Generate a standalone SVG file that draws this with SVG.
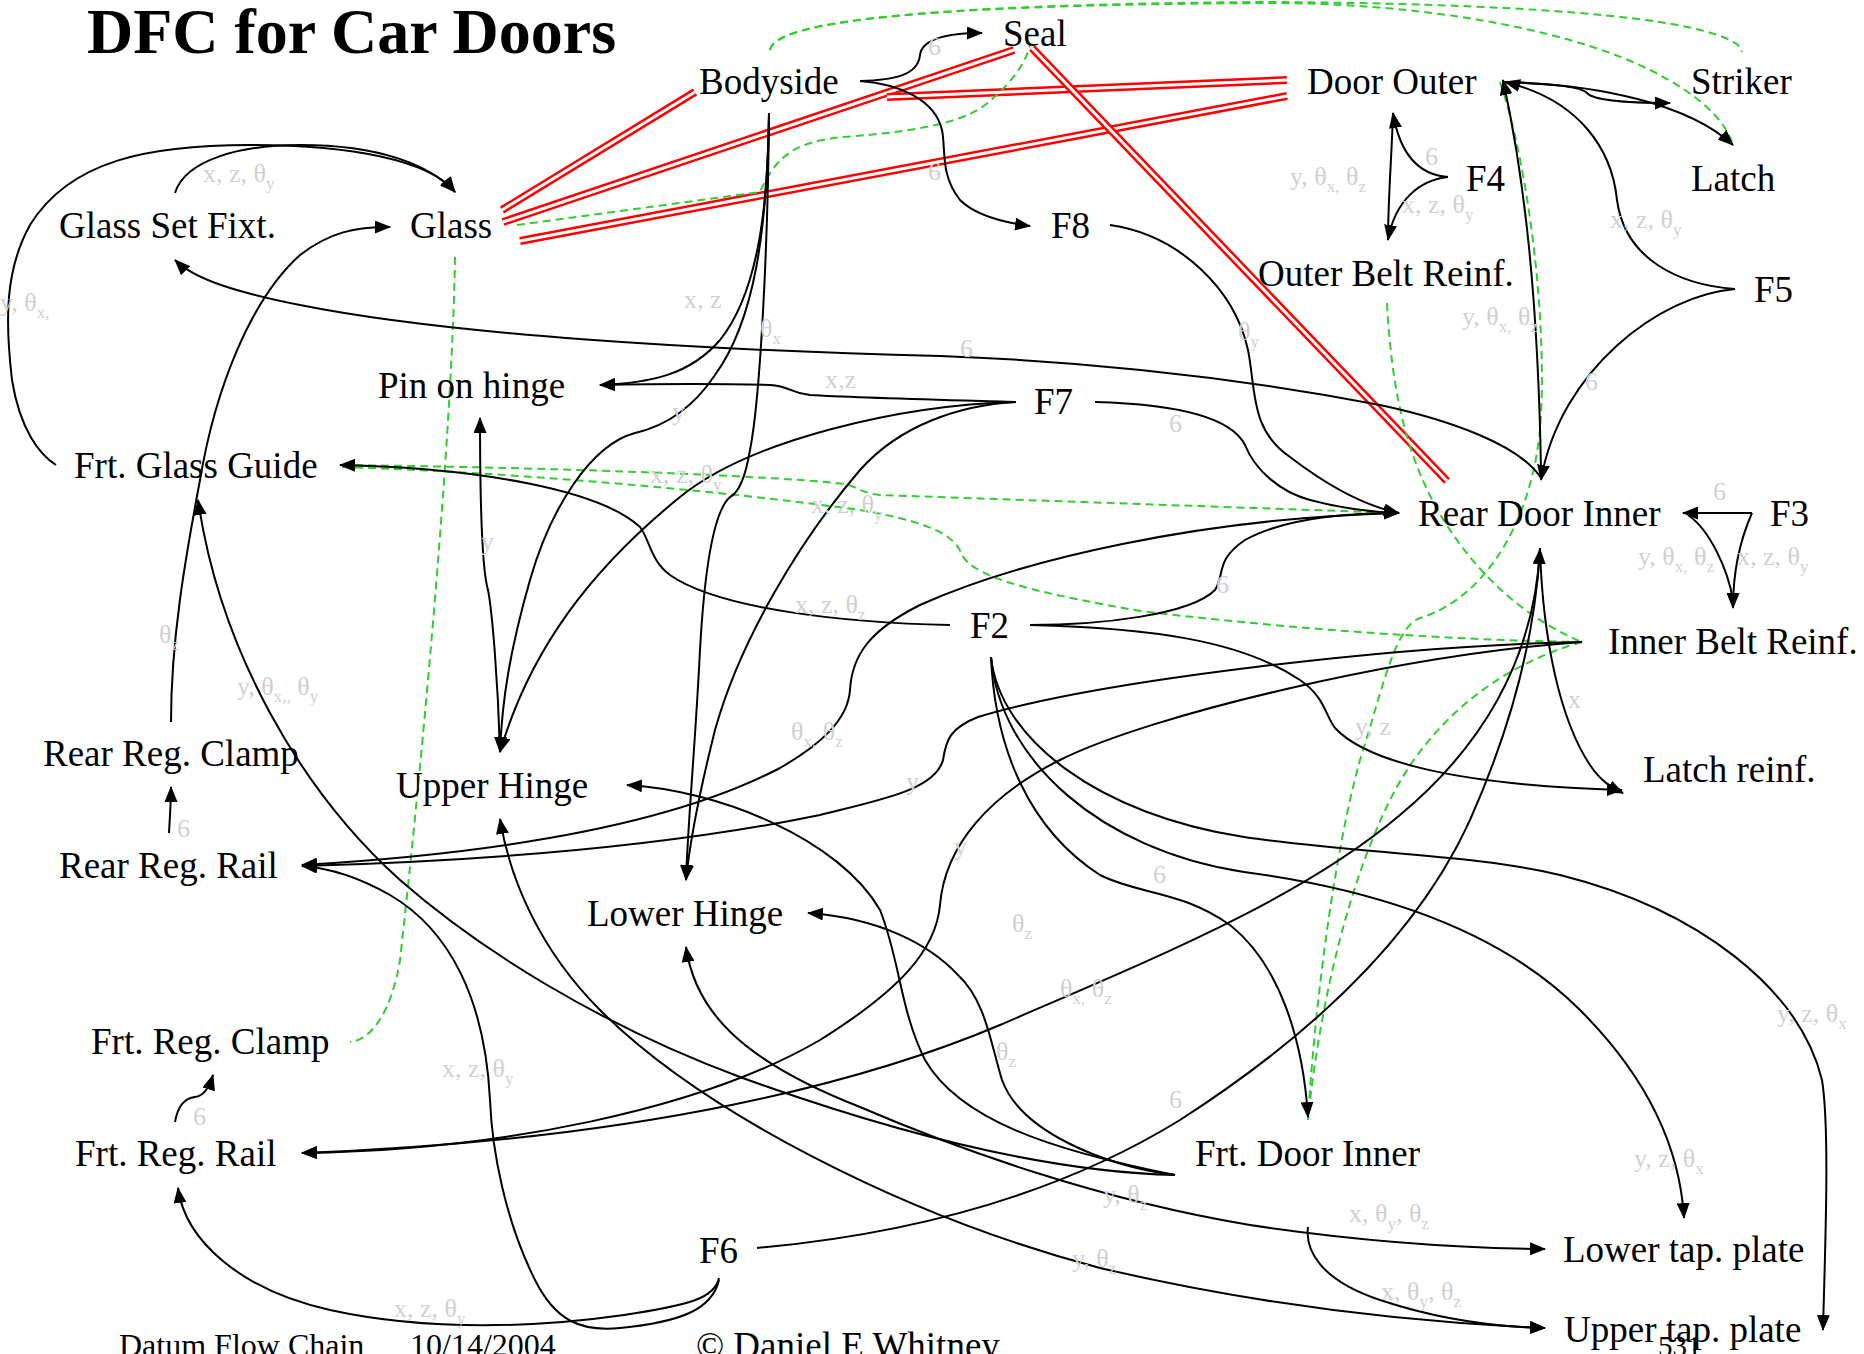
<svg xmlns="http://www.w3.org/2000/svg" width="1864" height="1354" viewBox="0 0 1864 1354">
<style>
.bg{fill:#fff}
.n{font-family:"Liberation Serif","Times New Roman",serif;font-size:37px;fill:#000}
.t{font-family:"Liberation Serif","Times New Roman",serif;font-size:64px;font-weight:bold;fill:#000}
.f{font-family:"Liberation Serif","Times New Roman",serif;fill:#000}
.lb{font-family:"Liberation Serif","Times New Roman",serif;font-size:26px;fill:#d0d0d0}
.sb{font-size:17px}
.e{fill:none;stroke:#000;stroke-width:2}
.g{fill:none;stroke:#33cc33;stroke-width:2;stroke-dasharray:8 5}
.r{fill:none;stroke:#ff0000;stroke-width:8}
.rw{fill:none;stroke:#fff;stroke-width:3}
</style>
<defs>
<marker id="a" markerUnits="userSpaceOnUse" markerWidth="16" markerHeight="13" refX="15" refY="6.5" orient="auto-start-reverse">
<path d="M0,0 L16,6.5 L0,13 z" fill="#000"/>
</marker>
</defs>
<rect class="bg" x="0" y="0" width="1864" height="1354"/>

<g id="connectors">
<!-- red double lines -->
<g id="red">
<path class="r" d="M502,210 L695,92"/><path class="rw" d="M502,210 L695,92"/>
<path class="r" d="M503,222 L1014,50"/><path class="rw" d="M503,222 L1014,50"/>
<path class="r" d="M520,241 L1287,96"/><path class="rw" d="M520,241 L1287,96"/>
<path class="r" d="M887,97 L1287,80"/><path class="rw" d="M887,97 L1287,80"/>
<path class="r" d="M1032,48 L1447,481"/><path class="rw" d="M1032,48 L1447,481"/>
</g>
<!-- green dashed -->
<g id="green">
<path class="g" d="M770,50 C775,15 1000,4 1260,2 C1500,3 1700,15 1738,45 L1742,52"/>
<path class="g" d="M770,50 C775,15 1000,4 1280,3 C1450,5 1580,35 1650,70 C1700,95 1725,120 1733,145"/>
<path class="g" d="M517,225 L760,192 C775,160 790,142 843,137 C900,133 960,125 985,105 C1010,85 1025,65 1030,45"/>
<path class="g" d="M1500,82 C1530,170 1548,330 1540,430 C1530,530 1480,600 1420,618 C1395,628 1385,680 1360,760 C1335,850 1315,1000 1308,1120"/>
<path class="g" d="M1387,303 C1392,400 1410,470 1450,530 C1490,590 1540,625 1582,642"/>
<path class="g" d="M1582,642 C1500,665 1430,720 1390,800 C1350,880 1320,1000 1308,1120"/>
<path class="g" d="M342,465 C600,468 800,478 845,484 C860,488 862,493 880,495 L1398,513"/>
<path class="g" d="M342,467 C500,472 700,488 860,510 C930,522 955,535 962,555 C975,580 1050,595 1140,611 C1300,630 1450,640 1582,642"/>
<path class="g" d="M455,257 C452,450 418,800 400,960 C392,1010 372,1040 350,1042"/>
</g>
<!-- black edges -->
<g id="black">
<path class="e" marker-end="url(#a)" d="M860,81 C895,80 918,75 920,55 C922,40 945,33 982,33"/>
<path class="e" marker-end="url(#a)" d="M860,81 C900,84 935,100 942,130 C946,150 940,175 960,200 C975,215 1000,222 1030,226"/>
<path class="e" marker-end="url(#a)" d="M1110,225 C1180,235 1235,290 1248,350 C1256,390 1250,430 1290,457 C1320,480 1360,505 1399,513"/>
<path class="e" marker-end="url(#a)" d="M1095,402 C1170,404 1230,415 1245,445 C1255,470 1280,492 1310,500 C1340,508 1370,512 1399,513"/>
<path class="e" marker-end="url(#a)" d="M1030,625 C1100,625 1190,615 1215,590 C1225,575 1215,560 1245,540 C1290,515 1360,513 1399,513"/>
<path class="e" marker-end="url(#a)" d="M1399,513 C1200,518 1020,560 920,605 C870,630 852,655 850,690 C848,720 820,745 780,768 C700,810 560,850 302,865"/>
<path class="e" marker-end="url(#a)" d="M1582,642 C1400,645 1100,680 978,717 C950,728 946,740 943,760 C935,790 880,800 820,815 C650,850 450,862 302,866"/>
<path class="e" marker-end="url(#a)" d="M1582,642 C1400,655 1150,715 1060,760 C990,795 945,845 940,905 C936,950 900,990 820,1040 C700,1110 500,1150 302,1153"/>
<path class="e" marker-end="url(#a)" d="M1540,548 C1535,650 1490,740 1400,815 C1300,900 1150,960 1000,1025 C870,1080 650,1140 302,1153"/>
<path class="e" marker-end="url(#a)" d="M757,1248 C900,1235 1050,1200 1180,1120 C1320,1030 1420,930 1470,820 C1510,730 1535,640 1540,549"/>
<path class="e" marker-end="url(#a)" d="M1540,550 C1543,640 1560,720 1590,765 C1600,780 1610,787 1623,793"/>
<path class="e" marker-end="url(#a)" d="M1030,625 C1150,628 1240,640 1300,680 C1325,697 1325,715 1335,728 C1365,760 1450,785 1622,790"/>
<path class="e" marker-end="url(#a)" d="M1752,513 L1683,513"/>
<path class="e" d="M1688,515 C1710,530 1728,570 1733,600"/>
<path class="e" marker-end="url(#a)" d="M1752,513 C1740,540 1733,570 1733,608"/>
<path class="e" marker-end="url(#a)" d="M1448,177 C1420,175 1400,155 1393,113"/>
<path class="e" marker-end="url(#a)" d="M1448,177 C1420,180 1395,200 1388,240"/>
<path class="e" d="M1393,113 C1392,150 1388,200 1388,240"/>
<path class="e" marker-end="url(#a)" d="M1735,289 C1680,285 1625,260 1617,200 C1612,150 1580,100 1505,82"/>
<path class="e" marker-end="url(#a)" d="M1735,289 C1660,295 1560,370 1541,480"/>
<path class="e" marker-end="url(#a)" d="M1541,470 C1538,300 1525,180 1503,80"/>
<path class="e" marker-end="url(#a)" d="M1505,82 C1550,84 1580,86 1587,93 C1595,102 1640,103 1670,103"/>
<path class="e" marker-end="url(#a)" d="M1505,82 C1600,84 1690,105 1733,145"/>
<path class="e" marker-end="url(#a)" d="M1541,478 C1520,445 1450,420 1380,405 C1250,380 1100,362 940,356 C700,350 450,335 300,305 C240,293 195,280 175,260"/>
<path class="e" marker-end="url(#a)" d="M175,193 C185,160 240,145 300,145 C380,145 430,165 455,192"/>
<path class="e" marker-end="url(#a)" d="M56,465 C40,455 20,430 12,380 C5,320 5,270 30,225 C70,160 150,145 250,145 C350,145 430,160 455,192"/>
<path class="e" marker-end="url(#a)" d="M171,722 C171,640 185,560 200,480 C215,390 250,300 300,255 C330,232 355,227 390,227"/>
<path class="e" marker-end="url(#a)" d="M1175,1175 C1050,1172 900,1135 740,1077 C600,1025 480,950 400,880 C300,790 220,650 198,500"/>
<path class="e" marker-start="url(#a)" marker-end="url(#a)" d="M1545,1328 C1400,1322 1250,1303 1100,1268 C900,1215 700,1110 600,1010 C540,950 510,880 500,819"/>
<path class="e" marker-start="url(#a)" marker-end="url(#a)" d="M686,947 C695,1010 740,1060 860,1107 C960,1150 1100,1200 1250,1225 C1350,1240 1450,1248 1545,1249"/>
<path class="e" marker-end="url(#a)" d="M1175,1175 C1050,1150 960,1120 925,1060 C900,1010 900,960 880,910 C840,840 720,790 627,785"/>
<path class="e" marker-end="url(#a)" d="M1175,1175 C1100,1165 1020,1130 1002,1080 C990,1040 985,1000 958,975 C930,945 880,918 808,913"/>
<path class="e" marker-end="url(#a)" d="M991,657 C995,750 1030,830 1100,875 C1140,895 1180,890 1230,925 C1280,965 1303,1040 1308,1117"/>
<path class="e" marker-end="url(#a)" d="M991,657 C1000,760 1100,850 1244,872 C1380,890 1500,930 1580,1010 C1650,1080 1680,1150 1684,1218"/>
<path class="e" marker-end="url(#a)" d="M991,657 C1000,740 1100,815 1244,837 C1350,853 1480,855 1560,875 C1700,910 1800,990 1822,1080 C1830,1130 1825,1250 1823,1330"/>
<path class="e" marker-end="url(#a)" d="M1308,1227 C1305,1250 1320,1280 1380,1300 C1440,1320 1500,1327 1545,1328"/>
<path class="e" marker-end="url(#a)" d="M719,1278 C715,1298 690,1305 624,1315 C540,1327 430,1332 330,1310 C240,1290 185,1240 178,1188"/>
<path class="e" marker-end="url(#a)" d="M719,1280 C712,1310 680,1322 620,1328 C580,1332 555,1320 535,1280 C505,1220 492,1150 490,1100 C485,1000 450,930 390,895 C360,878 330,868 302,866"/>
<path class="e" marker-end="url(#a)" d="M1016,402 C950,400 860,398 810,395 C790,393 790,386 770,385 C700,383 650,384 600,385"/>
<path class="e" marker-end="url(#a)" d="M769,113 C768,200 760,290 720,340 C690,375 650,383 600,385"/>
<path class="e" marker-end="url(#a)" d="M769,113 C767,230 755,320 715,375 C695,405 670,425 635,433 C590,445 550,510 530,580 C510,650 502,700 500,752"/>
<path class="e" marker-end="url(#a)" d="M769,113 C768,250 760,400 750,450 C745,480 738,493 730,497 C715,510 705,560 700,650 C695,750 688,820 686,880"/>
<path class="e" marker-end="url(#a)" d="M1016,402 C900,405 750,440 680,497 C590,570 530,650 500,752"/>
<path class="e" marker-end="url(#a)" d="M1016,402 C960,405 900,425 860,470 C800,540 740,640 715,730 C700,790 690,840 686,880"/>
<path class="e" marker-end="url(#a)" d="M500,752 C498,680 492,610 488,590 C482,570 480,500 480,418"/>
<path class="e" marker-end="url(#a)" d="M169,833 C170,815 171,800 171,787"/>
<path class="e" marker-end="url(#a)" d="M175,1122 C178,1105 185,1098 195,1097 C205,1096 210,1085 213,1075"/>
<path class="e" marker-end="url(#a)" d="M950,625 C850,623 720,610 670,575 C650,560 650,540 640,527 C600,490 480,468 340,465"/>
</g>
<!-- edge labels -->
<g id="labels">
<text class="lb" x="203" y="182">x, z, θ<tspan class="sb" dy="7">y</tspan></text>
<text class="lb" x="0" y="311">y, θ<tspan class="sb" dy="7">x,</tspan></text>
<text class="lb" x="928" y="55">6</text>
<text class="lb" x="928" y="180">6</text>
<text class="lb" x="1238" y="340">θ<tspan class="sb" dy="7">y</tspan></text>
<text class="lb" x="684" y="308">x, z</text>
<text class="lb" x="760" y="337">θ<tspan class="sb" dy="7">x</tspan></text>
<text class="lb" x="960" y="357">6</text>
<text class="lb" x="825" y="388">x,z</text>
<text class="lb" x="672" y="420">y</text>
<text class="lb" x="1169" y="432">6</text>
<text class="lb" x="1290" y="185">y, θ<tspan class="sb" dy="7">x,</tspan><tspan dy="-7"> θ</tspan><tspan class="sb" dy="7">z</tspan></text>
<text class="lb" x="1425" y="165">6</text>
<text class="lb" x="1402" y="213">x, z, θ<tspan class="sb" dy="7">y</tspan></text>
<text class="lb" x="1610" y="228">x, z, θ<tspan class="sb" dy="7">y</tspan></text>
<text class="lb" x="1462" y="325">y, θ<tspan class="sb" dy="7">x,</tspan><tspan dy="-7"> θ</tspan><tspan class="sb" dy="7">z</tspan></text>
<text class="lb" x="1585" y="390">6</text>
<text class="lb" x="1713" y="500">6</text>
<text class="lb" x="1638" y="565">y, θ<tspan class="sb" dy="7">x,</tspan><tspan dy="-7"> θ</tspan><tspan class="sb" dy="7">z</tspan></text>
<text class="lb" x="1737" y="565">x, z, θ<tspan class="sb" dy="7">y</tspan></text>
<text class="lb" x="1568" y="708">x</text>
<text class="lb" x="1355" y="735">y, z</text>
<text class="lb" x="1216" y="593">6</text>
<text class="lb" x="650" y="483">x, z, θ<tspan class="sb" dy="7">y</tspan></text>
<text class="lb" x="811" y="513">x, z, θ<tspan class="sb" dy="7">y</tspan></text>
<text class="lb" x="795" y="613">x, z, θ<tspan class="sb" dy="7">z</tspan></text>
<text class="lb" x="791" y="740">θ<tspan class="sb" dy="7">x,</tspan><tspan dy="-7"> θ</tspan><tspan class="sb" dy="7">z</tspan></text>
<text class="lb" x="906" y="790">y</text>
<text class="lb" x="954" y="855">y</text>
<text class="lb" x="1153" y="883">6</text>
<text class="lb" x="159" y="643">θ<tspan class="sb" dy="7">z</tspan></text>
<text class="lb" x="237" y="695">y, θ<tspan class="sb" dy="7">x,,</tspan><tspan dy="-7"> θ</tspan><tspan class="sb" dy="7">y</tspan></text>
<text class="lb" x="481" y="550">y</text>
<text class="lb" x="177" y="837">6</text>
<text class="lb" x="1012" y="932">θ<tspan class="sb" dy="7">z</tspan></text>
<text class="lb" x="1060" y="997">θ<tspan class="sb" dy="7">x,</tspan><tspan dy="-7"> θ</tspan><tspan class="sb" dy="7">z</tspan></text>
<text class="lb" x="996" y="1060">θ<tspan class="sb" dy="7">z</tspan></text>
<text class="lb" x="1169" y="1108">6</text>
<text class="lb" x="1103" y="1203">y, θ<tspan class="sb" dy="7">z</tspan></text>
<text class="lb" x="1072" y="1267">y, θ<tspan class="sb" dy="7">z</tspan></text>
<text class="lb" x="442" y="1077">x, z, θ<tspan class="sb" dy="7">y</tspan></text>
<text class="lb" x="193" y="1125">6</text>
<text class="lb" x="394" y="1317">x, z, θ<tspan class="sb" dy="7">y</tspan></text>
<text class="lb" x="1634" y="1167">y, z, θ<tspan class="sb" dy="7">x</tspan></text>
<text class="lb" x="1777" y="1022">y, z, θ<tspan class="sb" dy="7">x</tspan></text>
<text class="lb" x="1349" y="1222">x, θ<tspan class="sb" dy="7">y</tspan><tspan dy="-7">, θ</tspan><tspan class="sb" dy="7">z</tspan></text>
<text class="lb" x="1381" y="1300">x, θ<tspan class="sb" dy="7">y</tspan><tspan dy="-7">, θ</tspan><tspan class="sb" dy="7">z</tspan></text>
</g>
</g>

<text class="t" x="87" y="53">DFC for Car Doors</text>

<g id="glass-set-fixt"><text class="n" x="59" y="238">Glass Set Fixt.</text></g>
<g id="glass"><text class="n" x="410" y="238">Glass</text></g>
<g id="bodyside"><text class="n" x="699" y="94">Bodyside</text></g>
<g id="seal"><text class="n" x="1003" y="46">Seal</text></g>
<g id="door-outer"><text class="n" x="1307" y="94">Door Outer</text></g>
<g id="striker"><text class="n" x="1691" y="94">Striker</text></g>
<g id="latch"><text class="n" x="1691" y="191">Latch</text></g>
<g id="f4"><text class="n" x="1466" y="191">F4</text></g>
<g id="outer-belt-reinf"><text class="n" x="1258" y="286">Outer Belt Reinf.</text></g>
<g id="f5"><text class="n" x="1754" y="302">F5</text></g>
<g id="f8"><text class="n" x="1051" y="238">F8</text></g>
<g id="f7"><text class="n" x="1034" y="414">F7</text></g>
<g id="pin-on-hinge"><text class="n" x="378" y="398">Pin on hinge</text></g>
<g id="frt-glass-guide"><text class="n" x="74" y="478">Frt. Glass Guide</text></g>
<g id="rear-door-inner"><text class="n" x="1418" y="526">Rear Door Inner</text></g>
<g id="f3"><text class="n" x="1770" y="526">F3</text></g>
<g id="inner-belt-reinf"><text class="n" x="1608" y="654">Inner Belt Reinf.</text></g>
<g id="f2"><text class="n" x="970" y="638">F2</text></g>
<g id="latch-reinf"><text class="n" x="1643" y="782">Latch reinf.</text></g>
<g id="rear-reg-clamp"><text class="n" x="43" y="766">Rear Reg. Clamp</text></g>
<g id="upper-hinge"><text class="n" x="396" y="798">Upper Hinge</text></g>
<g id="rear-reg-rail"><text class="n" x="59" y="878">Rear Reg. Rail</text></g>
<g id="lower-hinge"><text class="n" x="587" y="926">Lower Hinge</text></g>
<g id="frt-reg-clamp"><text class="n" x="91" y="1054">Frt. Reg. Clamp</text></g>
<g id="frt-reg-rail"><text class="n" x="75" y="1166">Frt. Reg. Rail</text></g>
<g id="frt-door-inner"><text class="n" x="1195" y="1166">Frt. Door Inner</text></g>
<g id="f6"><text class="n" x="699" y="1263">F6</text></g>
<g id="lower-tap-plate"><text class="n" x="1563" y="1262">Lower tap. plate</text></g>
<g id="upper-tap-plate"><text class="n" x="1564" y="1342">Upper tap. plate</text></g>

<g id="footer">
<text class="f" x="119" y="1356" font-size="32">Datum Flow Chain</text>
<text class="f" x="410" y="1356" font-size="32">10/14/2004</text>
<text class="f" x="696" y="1358" font-size="37">© Daniel E Whitney</text>
<text class="f" x="1658" y="1356" font-size="29">531</text>
</g>
</svg>
